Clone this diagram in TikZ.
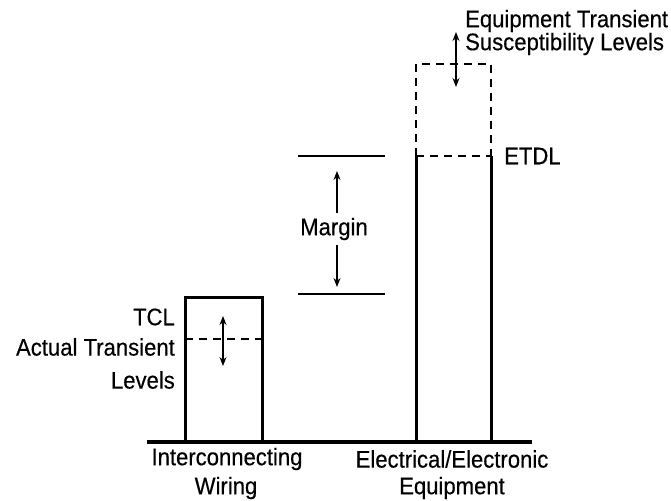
\documentclass[tikz,border=0pt]{standalone}
\usepackage{fontspec}
\setmainfont{Liberation Sans}[FakeStretch=0.92,FakeBold=0.4]
\usetikzlibrary{arrows.meta}
\begin{document}
\begin{tikzpicture}[x=1pt,y=-1pt,
  lbl/.style={inner sep=0pt,font=\fontsize{24}{26}\selectfont},
  bar/.style={line width=3pt},
  dbar/.style={line width=2.6pt,dash pattern=on 8pt off 6pt},
  thin/.style={line width=1.1pt},
  dbl/.style={line width=1.1pt,{Stealth[length=9pt,width=7pt]}-{Stealth[length=9pt,width=7pt]}},
  sgl/.style={line width=1.1pt,-{Stealth[length=9pt,width=7pt]}}]
\useasboundingbox (0,0) rectangle (671,500);
% baseline
\coordinate (gl) at (147,442);
\coordinate (gr) at (532,442);
\draw[line width=3.2pt] (gl) -- (gr);
% left box (interconnecting wiring)
\coordinate (lbl) at (185,442);
\coordinate (ltl) at (185,297);
\coordinate (ltr) at (262,297);
\coordinate (lbr) at (262,442);
\draw[bar] (lbl) -- (ltl) -- (ltr) -- (lbr);
\coordinate (ldl) at (185,339);
\coordinate (ldr) at (262,339);
\draw[dbar] (ldl) -- (ldr);
\coordinate (la1) at (223,316);
\coordinate (la2) at (223,366);
\draw[dbl] (la1) -- (la2);
% right box (equipment)
\coordinate (rbl) at (416,442);
\coordinate (rml) at (416,156);
\coordinate (rmr) at (491,156);
\coordinate (rbr) at (491,442);
\draw[bar] (rbl) -- (rml);
\draw[bar] (rbr) -- (rmr);
\draw[dbar] (rml) -- (rmr);
\coordinate (rtl) at (416,64);
\coordinate (rtr) at (491,64);
\draw[dbar] (rml) -- (rtl) -- (rtr) -- (rmr);
\coordinate (ra1) at (456,32);
\coordinate (ra2) at (456,87);
\draw[dbl] (ra1) -- (ra2);
% margin
\coordinate (m1l) at (298,156);
\coordinate (m1r) at (385,156);
\coordinate (m2l) at (298,294);
\coordinate (m2r) at (385,294);
\draw[thin] (m1l) -- (m1r);
\draw[thin] (m2l) -- (m2r);
\node[lbl] (margin) at (334,229) {Margin};
\coordinate (mt) at (337,171);
\coordinate (mb) at (337,287);
\draw[sgl] (337,213) -- (mt);
\draw[sgl] (337,245) -- (mb);
% labels
\node[lbl,anchor=west] (eqt1) at (465,21) {Equipment Transient};
\node[lbl,anchor=west] (eqt2) at (465,44) {Susceptibility Levels};
\node[lbl,anchor=west] (etdl) at (504,156) {ETDL};
\node[lbl,anchor=east] (tcl) at (175,317) {TCL};
\node[lbl,anchor=east] (act) at (175,347) {Actual Transient};
\node[lbl,anchor=east] (lev) at (175,380) {Levels};
\node[lbl] (ic) at (227,459) {Interconnecting};
\node[lbl] (wir) at (226,488) {Wiring};
\node[lbl] (ee) at (452,459) {Electrical/Electronic};
\node[lbl] (eq) at (452,488) {Equipment};
\end{tikzpicture}
\end{document}
